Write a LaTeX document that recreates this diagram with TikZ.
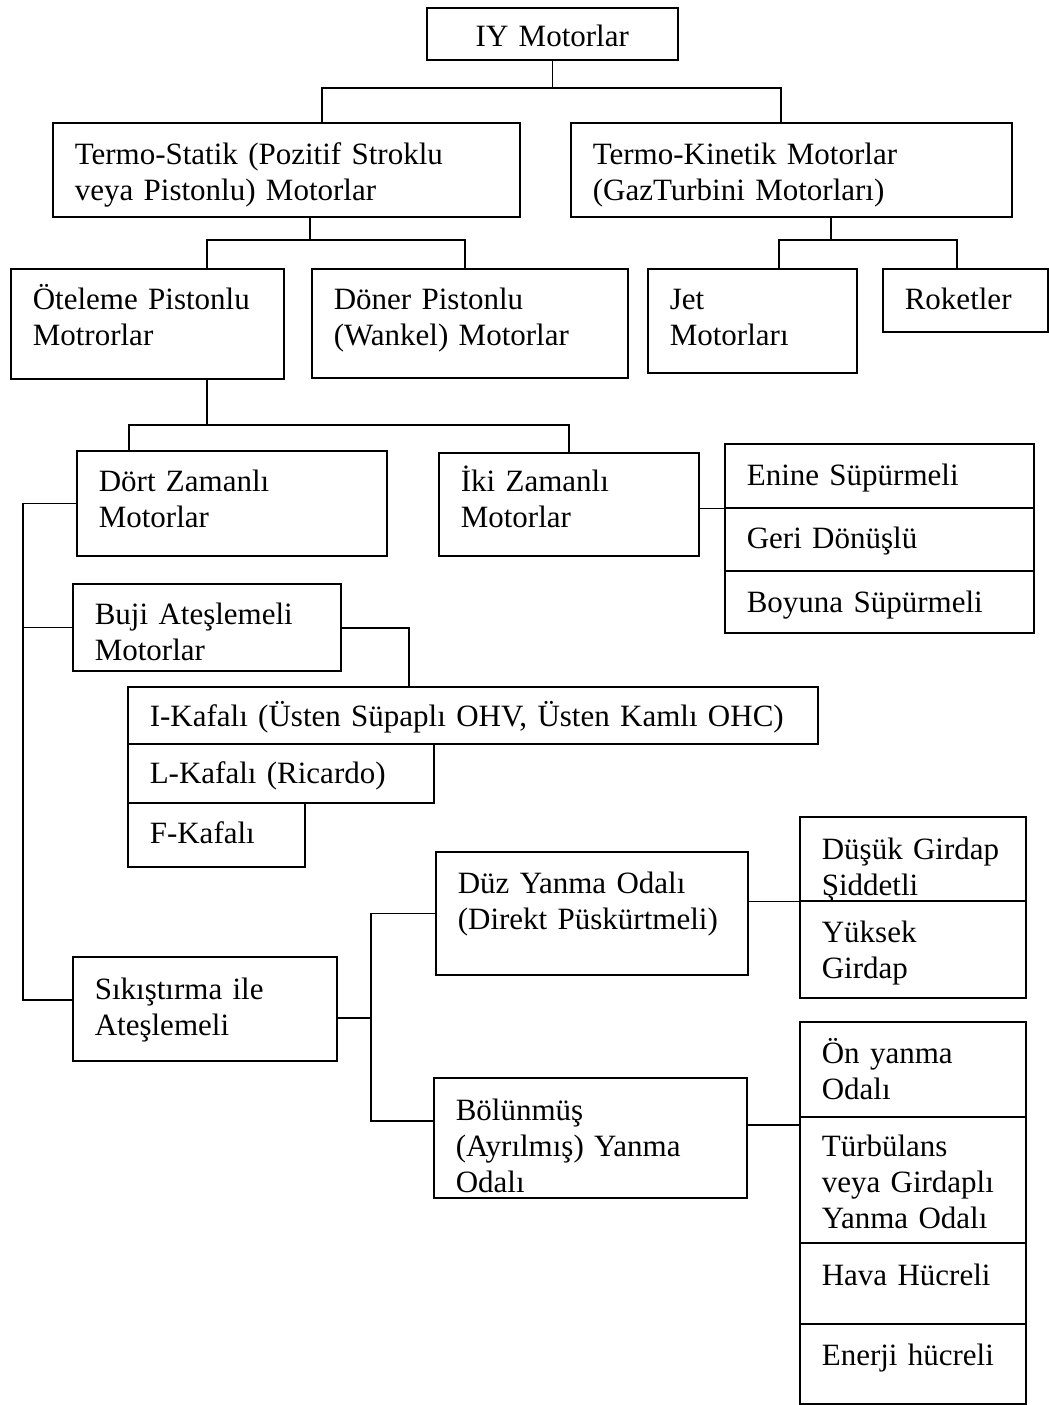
\documentclass[tikz,border=0pt]{standalone}
\usepackage{fontspec}
\setmainfont{Liberation Serif}
\usetikzlibrary{calc}
\begin{document}
\begin{tikzpicture}[x=1pt,y=-1pt,
  box/.style={draw, line width=1.6pt, anchor=north west, inner xsep=22pt, inner ysep=0pt, minimum height=0pt, align=left, font=\fontsize{31}{36}\selectfont},
  ln/.style={line width=1.6pt}]
\useasboundingbox (0,0) rectangle (1049,1405);
% boxes (placed by top-left corner; text height = first baseline from top)
\node[box, minimum width=251pt, text width=207pt, align=center, text height=39pt, text depth=13pt] (iy) at (426,7) {IY Motorlar};
\node[box, minimum width=467pt, text width=423pt, text height=42pt, text depth=52pt] (ts) at (52,122) {Termo-Statik (Pozitif Stroklu\\veya Pistonlu) Motorlar};
\node[box, minimum width=441pt, text width=397pt, text height=42pt, text depth=52pt] (tk) at (570,122) {Termo-Kinetik Motorlar\\(GazTurbini Motorları)};
\node[box, minimum width=273pt, text width=229pt, text height=41pt, text depth=69pt] (ot) at (10,268) {Öteleme Pistonlu\\Motrorlar};
\node[box, minimum width=316pt, text width=272pt, text height=41pt, text depth=68pt] (don) at (311,268) {Döner Pistonlu\\(Wankel) Motorlar};
\node[box, minimum width=209pt, text width=165pt, text height=41pt, text depth=63pt] (jet) at (647,268) {Jet\\Motorları};
\node[box, minimum width=165pt, text width=121pt, text height=41pt, text depth=22pt] (rok) at (882,268) {Roketler};
\node[box, minimum width=310pt, text width=266pt, text height=41pt, text depth=64pt] (dort) at (76,450) {Dört Zamanlı\\Motorlar};
\node[box, minimum width=260pt, text width=216pt, text height=39pt, text depth=64pt] (iki) at (438,452) {İki Zamanlı\\Motorlar};
\node[box, minimum width=309pt, text width=265pt, text height=42pt, text depth=22pt] (enine) at (724,443) {Enine Süpürmeli};
\node[box, minimum width=309pt, text width=265pt, text height=41pt, text depth=22pt] (geri) at (724,507) {Geri Dönüşlü};
\node[box, minimum width=309pt, text width=265pt, text height=42pt, text depth=20pt] (boy) at (724,570) {Boyuna Süpürmeli};
\node[box, minimum width=268pt, text width=224pt, text height=41pt, text depth=46pt] (buji) at (72,583) {Buji Ateşlemeli\\Motorlar};
\node[box, minimum width=690pt, text width=646pt, text height=40pt, text depth=17pt] (ikaf) at (127,686) {I-Kafalı (Üsten Süpaplı OHV, Üsten Kamlı OHC)};
\node[box, minimum width=306pt, text width=262pt, text height=40pt, text depth=19pt] (lkaf) at (127,743) {L-Kafalı (Ricardo)};
\node[box, minimum width=177pt, text width=133pt, text height=41pt, text depth=23pt] (fkaf) at (127,802) {F-Kafalı};
\node[box, minimum width=312pt, text width=268pt, text height=42pt, text depth=81pt] (duz) at (435,851) {Düz Yanma Odalı\\(Direkt Püskürtmeli)};
\node[box, minimum width=226pt, text width=182pt, text height=43pt, text depth=41pt] (dusuk) at (799,816) {Düşük Girdap\\Şiddetli};
\node[box, minimum width=226pt, text width=182pt, text height=42pt, text depth=55pt] (yuksek) at (799,900) {Yüksek\\Girdap};
\node[box, minimum width=264pt, text width=220pt, text height=43pt, text depth=61pt] (sik) at (72,956) {Sıkıştırma ile\\Ateşlemeli};
\node[box, minimum width=313pt, text width=269pt, text height=43pt, text depth=77pt] (bol) at (433,1077) {Bölünmüş\\(Ayrılmış) Yanma\\Odalı};
\node[box, minimum width=226pt, text width=182pt, text height=42pt, text depth=53pt] (onyan) at (799,1021) {Ön yanma\\Odalı};
\node[box, minimum width=226pt, text width=182pt, text height=40pt, text depth=86pt] (turb) at (799,1116) {Türbülans\\veya Girdaplı\\Yanma Odalı};
\node[box, minimum width=226pt, text width=182pt, text height=43pt, text depth=38pt] (hava) at (799,1242) {Hava Hücreli};
\node[box, minimum width=226pt, text width=182pt, text height=42pt, text depth=38pt] (enerji) at (799,1323) {Enerji hücreli};
% connectors
\coordinate (xa) at (322,88); \coordinate (xb) at (781,88);
\draw[ln] (iy.south) -- (iy.south |- xa);
\draw[ln] (xa |- ts.north) -- (xa) -- (xb) -- (xb |- tk.north);
\coordinate (ya) at (207,240); \coordinate (yb) at (465,240); \coordinate (yc) at (310,240);
\draw[ln] (yc |- ts.south) -- (yc);
\draw[ln] (ya |- ot.north) -- (ya) -- (yb) -- (yb |- don.north);
\coordinate (za) at (779,240); \coordinate (zb) at (957,240); \coordinate (zc) at (831,240);
\draw[ln] (zc |- tk.south) -- (zc);
\draw[ln] (za |- jet.north) -- (za) -- (zb) -- (zb |- rok.north);
\coordinate (wa) at (129,425); \coordinate (wb) at (569,425); \coordinate (wc) at (207,425);
\draw[ln] (wc |- ot.south) -- (wc);
\draw[ln] (wa |- dort.north) -- (wa) -- (wb) -- (wb |- iki.north);
\draw[ln] (iki.east |- enine.south) -- (enine.south west);
\coordinate (tr) at (23,502);
\draw[ln] (dort.west) -- (dort.west -| tr) |- ([yshift=9pt]sik.west);
\draw[ln] (buji.west) -- (buji.west -| tr);
\coordinate (bk) at (409,628);
\draw[ln] (buji.east |- bk) -- (bk) -- (bk |- ikaf.north);
\draw[ln] (duz.east |- dusuk.south) -- (dusuk.south west);
\coordinate (sj) at (371,1018); \coordinate (sb) at (371,1121);
\draw[ln] (sik.east |- sj) -- (sj);
\draw[ln] (duz.west) -| (sj);
\draw[ln] (sj) -- (sb) -- (sb -| bol.west);
\coordinate (bj) at (746,1125);
\draw[ln] (bol.east |- bj) -- (bj -| onyan.west);
\end{tikzpicture}
\end{document}
